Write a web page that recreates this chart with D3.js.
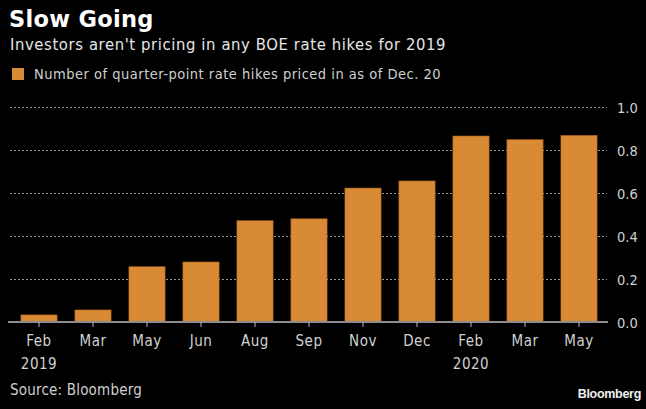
<!DOCTYPE html>
<html><head><meta charset="utf-8">
<script src="https://cdn.jsdelivr.net/npm/d3@7"></script>
<style>
html,body{margin:0;padding:0;background:#000;}
svg{display:block;}
text{font-family:"DejaVu Sans Condensed","DejaVu Sans",sans-serif;}
</style></head>
<body>
<svg id="chart" width="646" height="409"></svg>
<script>
const categories = ["Feb","Mar","May","Jun","Aug","Sep","Nov","Dec","Feb ","Mar ","May "];
const yearLabels = ["2019","","","","","","","","2020","",""];
const hikes = [0.033,0.056,0.257,0.279,0.471,0.48,0.623,0.656,0.865,0.848,0.868];
const yTicks = [0,0.2,0.4,0.6,0.8,1.0];

const svg = d3.select("#chart");
svg.append("rect").attr("width",646).attr("height",409).attr("fill","#000");

const x = d3.scaleBand().domain(categories).range([12,606]).paddingInner(0.33).paddingOuter(0.165);
const y = d3.scaleLinear().domain([0,1]).range([322,107]);

// title
svg.append("text").attr("x",9).attr("y",27).attr("fill","#fff")
  .style("font-family","'DejaVu Sans',sans-serif").style("font-weight","bold").style("font-size","22.5px")
  .style("letter-spacing","0.3px")
  .text("Slow Going");
svg.append("text").attr("x",10).attr("y",50).attr("fill","#e6e6e6").style("font-size","16.5px")
  .style("letter-spacing","0.6px")
  .text("Investors aren't pricing in any BOE rate hikes for 2019");
svg.append("rect").attr("x",12).attr("y",68).attr("width",12).attr("height",12).attr("fill","#d98a35");
svg.append("text").attr("x",34).attr("y",79).attr("fill","#cfcfcf").style("font-size","14.5px")
  .style("letter-spacing","0.5px")
  .text("Number of quarter-point rate hikes priced in as of Dec. 20");

// gridlines
svg.append("g").selectAll("line").data(yTicks.filter(d=>d>0)).join("line")
  .attr("x1",10).attr("x2",607).attr("y1",d=>y(d)+0.5).attr("y2",d=>y(d)+0.5)
  .attr("stroke","#9a9a9a").attr("stroke-width",1).attr("stroke-dasharray","2,2");

// bars
svg.append("g").selectAll("rect").data(hikes).join("rect")
  .attr("x",(d,i)=>x(categories[i])).attr("width",x.bandwidth())
  .attr("y",d=>y(d)).attr("height",d=>y(0)-y(d))
  .attr("fill","#d98a35").attr("stroke","#a8621f").attr("stroke-width",0.6);

// y axis labels on right
const yAxis = d3.axisRight(y).tickValues(yTicks).tickFormat(d3.format(".1f")).tickSize(0).tickPadding(0);
const gy = svg.append("g").attr("transform","translate(617,0)").call(yAxis);
gy.select(".domain").remove();
gy.selectAll("text").attr("fill","#d0d0d0").style("font-size","14.5px")
  .style("font-family","'DejaVu Sans Condensed','DejaVu Sans',sans-serif").attr("dy","0.35em");

// x axis
const xAxis = d3.axisBottom(x).tickSize(5).tickSizeOuter(0).tickPadding(8);
const gx = svg.append("g").attr("transform","translate(0,322)").call(xAxis);
gx.select(".domain").attr("stroke","#8c8c8c").attr("stroke-width",2).attr("d","M8,0H608");
gx.selectAll(".tick line").attr("stroke","#bdbdbd");
gx.selectAll(".tick text").attr("fill","#d0d0d0").style("font-size","15px").style("letter-spacing","0.5px")
  .style("font-family","'DejaVu Sans Condensed','DejaVu Sans',sans-serif");
gx.selectAll(".tick").append("text").attr("y",36).attr("dy","0.71em")
  .attr("fill","#d0d0d0").attr("text-anchor","middle").style("font-size","15px").style("letter-spacing","0.5px")
  .style("font-family","'DejaVu Sans Condensed','DejaVu Sans',sans-serif")
  .text((d,i)=>yearLabels[i]);

// footer
svg.append("text").attr("x",10).attr("y",395).attr("fill","#cfcfcf").style("font-size","15px")
  .style("letter-spacing","0.2px")
  .text("Source: Bloomberg");
svg.append("text").attr("x",641).attr("y",398).attr("text-anchor","end").attr("fill","#f0f0f0")
  .style("font-family","'Liberation Sans',Arial,sans-serif").style("font-weight","bold").style("font-size","12.5px")
  .style("letter-spacing","-0.3px")
  .text("Bloomberg");
</script>
</body></html>
